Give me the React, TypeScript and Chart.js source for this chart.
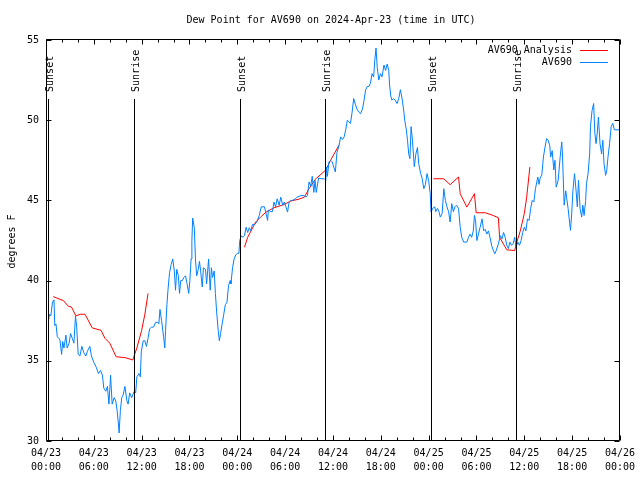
import React, { useEffect, useRef } from 'react';
import { Chart, registerables } from 'chart.js';

Chart.register(...registerables);

const FONT = '"DejaVu Sans Mono", "Liberation Mono", monospace';

const chartTitle = 'Dew Point for AV690 on 2024-Apr-23 (time in UTC)';
const yAxisTitle = 'degrees F';
const analysisLabel = 'AV690 Analysis';
const observedLabel = 'AV690';

const xTickDates = ['04/23', '04/23', '04/23', '04/23', '04/24', '04/24', '04/24', '04/24', '04/25', '04/25', '04/25', '04/25', '04/26'];
const xTickTimes = ['00:00', '06:00', '12:00', '18:00', '00:00', '06:00', '12:00', '18:00', '00:00', '06:00', '12:00', '18:00', '00:00'];

const sunsetHours = [0.29, 24.29, 48.29];
const sunriseHours = [11.04, 35.04, 58.91];

// Analysis (red) segments: hours since 04/23 00:00 UTC, dew point in F
const analysisHours1 = [0.9, 2.2, 2.8, 3.2, 3.75, 4.3, 4.9, 5.8, 6.9, 7.4, 8.0, 8.8, 9.9, 10.9, 11.05, 11.4, 12.0, 12.4, 12.8];
const analysisValues1 = [39.0, 38.75, 38.4, 38.35, 37.8, 37.9, 37.9, 37.05, 36.9, 36.4, 36.1, 35.25, 35.2, 35.05, 35.3, 35.8, 36.9, 37.9, 39.2];
const analysisHours2 = [24.9, 25.3, 26.3, 27.0, 27.6, 28.6, 29.9, 30.7, 31.75, 32.4, 33.0, 33.75, 35.1, 35.7, 36.75];
const analysisValues2 = [42.08, 42.7, 43.65, 44.0, 44.27, 44.54, 44.75, 44.96, 45.08, 45.2, 45.73, 46.3, 46.9, 47.5, 48.44];
const analysisHours3 = [48.6, 49.9, 50.7, 51.75, 51.96, 52.8, 53.75, 53.96, 55.1, 56.1, 56.75, 56.9, 57.8, 58.8, 59.0, 59.5, 60.0, 60.3, 60.7];
const analysisValues3 = [46.35, 46.35, 45.98, 46.46, 45.42, 44.58, 45.42, 44.23, 44.23, 44.06, 43.92, 42.7, 41.92, 41.875, 42.3, 43.1, 44.17, 45.2, 47.08];

// Observed (blue)
const observedHours = [
  0.3, 0.45, 0.6, 0.8, 0.92, 1.0, 1.1, 1.25, 1.42, 1.6, 1.75, 1.96, 2.1, 2.25, 2.5, 2.65, 2.9, 3.08, 3.3, 3.5,
  3.7, 3.85, 4.04, 4.25, 4.5, 4.75, 5.0, 5.2, 5.5, 5.7, 6.0, 6.3, 6.58, 6.83, 7.08, 7.25, 7.5, 7.7, 7.9, 8.1,
  8.3, 8.55, 8.75, 8.92, 9.1, 9.17, 9.33, 9.5, 9.7, 9.9, 10.15, 10.3, 10.5, 10.75, 10.9, 11.08, 11.25, 11.4, 11.67, 11.83,
  11.96, 12.2, 12.4, 12.6, 12.8, 13.0, 13.25, 13.5, 13.75, 14.0, 14.15, 14.3, 14.5, 14.75, 14.9, 15.0, 15.17, 15.3, 15.5, 15.7,
  15.9, 16.1, 16.25, 16.4, 16.6, 16.75, 16.9, 17.1, 17.3, 17.5, 17.7, 17.9, 18.05, 18.2, 18.3, 18.4, 18.6, 18.75, 18.9, 19.1,
  19.25, 19.4, 19.6, 19.75, 20.0, 20.15, 20.4, 20.6, 20.75, 20.9, 21.1, 21.25, 21.4, 21.6, 21.75, 21.9, 22.1, 22.3, 22.5, 22.7,
  22.9, 23.1, 23.2, 23.4, 23.6, 23.8, 24.0, 24.2, 24.3, 24.5, 24.7, 24.9, 25.1, 25.3, 25.5, 25.7, 25.9, 26.2, 26.5, 26.75,
  27.0, 27.4, 27.6, 27.8, 27.9, 28.2, 28.4, 28.6, 28.8, 29.0, 29.25, 29.45, 29.7, 29.9, 30.1, 30.3, 30.5, 30.7, 30.9, 31.3,
  31.5, 32.0, 32.4, 32.6, 32.8, 33.0, 33.2, 33.4, 33.6, 33.75, 33.9, 34.2, 34.5, 34.9, 35.1, 35.2, 35.3, 35.5, 35.7, 35.9,
  36.1, 36.3, 36.5, 36.75, 36.96, 37.2, 37.4, 37.6, 37.8, 38.0, 38.2, 38.4, 38.6, 38.8, 39.0, 39.25, 39.46, 39.7, 39.9, 40.1,
  40.3, 40.5, 40.7, 40.9, 41.1, 41.25, 41.4, 41.55, 41.75, 41.95, 42.15, 42.4, 42.6, 42.8, 43.0, 43.1, 43.25, 43.4, 43.6, 43.8,
  44.04, 44.25, 44.46, 44.7, 44.9, 45.0, 45.2, 45.35, 45.5, 45.65, 45.8, 45.97, 46.2, 46.4, 46.6, 46.75, 47.0, 47.15, 47.4, 47.6,
  47.8, 48.0, 48.2, 48.3, 48.5, 48.75, 48.9, 49.1, 49.3, 49.46, 49.7, 49.9, 50.1, 50.3, 50.5, 50.7, 50.9, 51.1, 51.3, 51.5,
  51.75, 51.96, 52.15, 52.4, 52.8, 53.0, 53.2, 53.4, 53.6, 53.75, 53.9, 54.05, 54.25, 54.46, 54.7, 54.9, 55.1, 55.3, 55.5, 55.7,
  55.9, 56.1, 56.3, 56.5, 56.75, 57.0, 57.2, 57.4, 57.6, 57.8, 58.0, 58.2, 58.4, 58.6, 58.8, 58.96, 59.2, 59.4, 59.6, 59.8,
  60.0, 60.2, 60.4, 60.6, 60.8, 61.0, 61.2, 61.4, 61.7, 61.85, 62.0, 62.2, 62.4, 62.6, 62.8, 63.0, 63.2, 63.3, 63.5, 63.7,
  63.85, 64.0, 64.25, 64.5, 64.7, 64.8, 65.0, 65.2, 65.3, 65.5, 65.7, 65.8, 65.95, 66.1, 66.3, 66.5, 66.65, 66.8, 67.0, 67.2,
  67.35, 67.5, 67.7, 67.8, 68.0, 68.2, 68.3, 68.5, 68.7, 68.85, 69.0, 69.15, 69.3, 69.5, 69.7, 69.85, 70.0, 70.2, 70.35, 70.5,
  70.7, 70.9, 71.1, 71.3, 71.75, 72.0,
];
const observedValues = [
  37.5, 37.9, 37.8, 38.6, 38.75, 38.8, 37.2, 37.3, 36.5, 36.4, 36.3, 35.4, 36.2, 35.8, 36.6, 35.8, 36.1, 36.7, 36.4, 36.1,
  37.8, 37.1, 35.4, 35.3, 35.9, 35.5, 35.3, 35.6, 35.9, 35.3, 34.9, 34.6, 34.2, 34.4, 34.1, 33.3, 33.1, 33.4, 32.3, 34.1,
  32.3, 32.7, 32.5, 31.9, 31.0, 30.5, 31.9, 32.7, 32.9, 33.4, 32.5, 32.3, 33.0, 32.7, 32.9, 33.1, 33.0, 34.0, 34.2, 34.0,
  35.6, 36.25, 36.25, 35.9, 36.4, 37.0, 37.1, 37.1, 37.4, 37.4, 37.3, 38.2, 37.5, 36.5, 35.8, 36.9, 38.5, 39.4, 40.5, 41.0,
  41.35, 40.6, 39.4, 40.7, 40.3, 39.2, 40.0, 40.0, 40.2, 40.3, 39.8, 39.2, 40.0, 41.35, 42.5, 43.9, 43.3, 41.35, 40.3, 40.7,
  41.2, 40.6, 39.6, 40.8, 40.7, 39.8, 41.35, 39.4, 40.8, 40.2, 40.6, 39.2, 38.1, 36.9, 36.25, 36.7, 37.3, 37.9, 38.5, 38.65,
  39.7, 40.0, 39.8, 40.8, 41.35, 41.6, 41.7, 41.7, 42.5, 42.8, 42.7, 42.8, 43.33, 43.0, 43.3, 43.1, 43.5, 43.5, 43.7, 44.06,
  44.6, 44.6, 44.2, 43.75, 44.4, 44.3, 44.3, 44.9, 44.6, 45.1, 44.7, 45.2, 44.7, 44.9, 44.6, 44.27, 44.9, 45.0, 45.0, 45.1,
  45.2, 45.3, 45.3, 45.2, 45.3, 46.15, 45.9, 46.5, 45.5, 46.25, 45.5, 46.4, 46.35, 46.35, 46.25, 47.08, 46.5, 47.4, 47.5, 47.4,
  47.08, 46.77, 48.0, 48.4, 48.96, 48.8, 48.96, 49.4, 50.0, 49.9, 49.8, 50.5, 51.35, 51.0, 50.7, 50.5, 50.4, 50.7, 51.25, 51.9,
  52.1, 52.1, 52.3, 52.9, 52.7, 53.75, 54.5, 53.3, 52.5, 52.9, 52.7, 53.44, 53.1, 53.5, 53.1, 52.2, 51.5, 51.25, 51.35, 51.25,
  51.04, 51.35, 51.9, 51.25, 50.5, 50.0, 49.4, 48.75, 47.9, 47.6, 49.6, 48.75, 47.1, 47.9, 48.3, 47.3, 46.67, 46.45, 45.73, 46.0,
  46.67, 46.25, 45.42, 44.27, 44.5, 44.6, 44.3, 44.5, 44.3, 43.96, 44.2, 45.73, 45.0, 44.6, 44.3, 43.65, 44.8, 44.3, 44.6, 44.7,
  44.5, 43.33, 42.7, 42.4, 42.4, 42.7, 42.9, 42.7, 43.1, 44.06, 43.65, 42.5, 42.9, 43.33, 43.85, 43.1, 43.2, 42.9, 43.1, 42.7,
  42.2, 41.9, 41.67, 41.9, 42.3, 42.8, 42.6, 43.0, 42.7, 42.2, 42.0, 42.4, 42.2, 42.3, 42.7, 42.08, 42.4, 42.2, 42.5, 43.0,
  43.33, 43.1, 43.85, 43.75, 44.5, 45.0, 44.9, 45.73, 46.46, 46.0, 46.4, 46.6, 47.7, 48.33, 48.85, 48.75, 48.4, 47.7, 48.1, 46.9,
  47.5, 45.83, 46.25, 47.7, 48.65, 47.7, 44.7, 45.6, 45.2, 44.48, 43.54, 43.13, 44.2, 45.6, 46.67, 45.6, 44.6, 46.25, 44.5, 43.96,
  44.7, 44.06, 45.0, 46.04, 46.67, 47.9, 49.6, 50.6, 51.04, 49.2, 48.54, 49.2, 50.2, 48.54, 47.9, 48.75, 47.3, 46.56, 46.9, 47.7,
  48.54, 49.6, 49.8, 49.4, 49.4, 49.4,
];

const yMin = 30;
const yMax = 55;
const yStep = 5;
const xMinHours = 0;
const xMaxHours = 72;
const xMajorStep = 6;
const xMinorStep = 2;

const RED = '#ff0000';
const BLUE = '#0080ff';

function toPoints(hours: number[], values: number[]) {
  return hours.map((h, i) => ({ x: h, y: values[i] }));
}

const overlayPlugin = {
  id: 'gnuOverlay',
  afterDatasetsDraw(chart: any) {
    const { ctx, chartArea: a, scales } = chart;
    const xs = scales.x;
    const ys = scales.y;
    const L = Math.floor(a.left) + 0.5;
    const T = Math.floor(a.top) - 0.5;
    const R = Math.ceil(a.right) - 0.5;
    const B = Math.ceil(a.bottom) - 0.5;
    ctx.save();
    ctx.font = `10px ${FONT}`;
    ctx.fillStyle = '#000';
    ctx.strokeStyle = '#000';
    ctx.lineWidth = 1;

    // sunrise / sunset markers
    const h = a.bottom - a.top;
    const lineTop = a.top + h * 0.147;
    const drawSun = (hour: number, label: string) => {
      const px = Math.round(xs.getPixelForValue(hour)) + 0.5;
      ctx.beginPath();
      ctx.moveTo(px, lineTop);
      ctx.lineTo(px, B);
      ctx.stroke();
      ctx.save();
      ctx.translate(px + 4.5, lineTop - 7);
      ctx.rotate(-Math.PI / 2);
      ctx.textAlign = 'left';
      ctx.textBaseline = 'alphabetic';
      ctx.fillText(label, 0, 0);
      ctx.restore();
    };
    sunsetHours.forEach((s) => drawSun(s, 'Sunset'));
    sunriseHours.forEach((s) => drawSun(s, 'Sunrise'));

    // frame
    ctx.beginPath();
    ctx.rect(L, T, R - L, B - T);
    ctx.stroke();

    // x ticks (inward, mirrored on top)
    for (let v = xMinHours; v <= xMaxHours + 1e-9; v += xMinorStep) {
      const len = v % xMajorStep === 0 ? 5 : 3;
      const px = Math.round(xs.getPixelForValue(v)) + 0.5;
      ctx.beginPath();
      ctx.moveTo(px, B);
      ctx.lineTo(px, B - len);
      ctx.moveTo(px, T);
      ctx.lineTo(px, T + len);
      ctx.stroke();
    }
    // y ticks
    for (let v = yMin; v <= yMax + 1e-9; v += yStep) {
      const py = Math.round(ys.getPixelForValue(v)) + 0.5;
      ctx.beginPath();
      ctx.moveTo(L, py);
      ctx.lineTo(L + 5, py);
      ctx.moveTo(R, py);
      ctx.lineTo(R - 5, py);
      ctx.stroke();
    }

    // title
    ctx.textAlign = 'center';
    ctx.textBaseline = 'middle';
    ctx.fillText(chartTitle, 331, 20);

    // y axis title
    ctx.save();
    ctx.translate(15, (a.top + a.bottom) / 2 + 1);
    ctx.rotate(-Math.PI / 2);
    ctx.textAlign = 'center';
    ctx.textBaseline = 'alphabetic';
    ctx.fillText(yAxisTitle, 0, 0);
    ctx.restore();

    // legend
    chart.data.datasets.forEach((ds: any, i: number) => {
      const ly = a.top + 10 + i * 12;
      ctx.textAlign = 'right';
      ctx.textBaseline = 'middle';
      ctx.fillStyle = '#000';
      ctx.fillText(ds.label, a.right - 48, ly);
      ctx.strokeStyle = ds.borderColor;
      ctx.beginPath();
      ctx.moveTo(a.right - 40, Math.round(ly) + 0.5);
      ctx.lineTo(a.right - 12, Math.round(ly) + 0.5);
      ctx.stroke();
    });
    ctx.restore();
  },
};

export default function App() {
  const canvasRef = useRef<HTMLCanvasElement | null>(null);

  useEffect(() => {
    if (!canvasRef.current) return;
    Chart.defaults.font.family = FONT;
    Chart.defaults.font.size = 10;
    Chart.defaults.color = '#000';

    const analysisData = [
      ...toPoints(analysisHours1, analysisValues1),
      { x: (analysisHours1[analysisHours1.length - 1] + analysisHours2[0]) / 2, y: null },
      ...toPoints(analysisHours2, analysisValues2),
      { x: (analysisHours2[analysisHours2.length - 1] + analysisHours3[0]) / 2, y: null },
      ...toPoints(analysisHours3, analysisValues3),
    ];

    const chart = new Chart(canvasRef.current, {
      type: 'line',
      data: {
        datasets: [
          {
            label: analysisLabel,
            data: analysisData as any,
            borderColor: RED,
            backgroundColor: RED,
            borderWidth: 1,
            pointRadius: 0,
            tension: 0,
            spanGaps: false,
            order: 1,
          },
          {
            label: observedLabel,
            data: toPoints(observedHours, observedValues),
            borderColor: BLUE,
            backgroundColor: BLUE,
            borderWidth: 1,
            pointRadius: 0,
            tension: 0,
            order: 0,
          },
        ],
      },
      options: {
        animation: false,
        responsive: false,
        devicePixelRatio: 1,
        events: [],
        layout: { padding: { left: 0, top: 40, right: 18, bottom: 0 } },
        plugins: {
          legend: { display: false },
          title: { display: false },
          tooltip: { enabled: false },
        },
        scales: {
          x: {
            type: 'linear',
            min: xMinHours,
            max: xMaxHours,
            grid: { display: false, drawTicks: false },
            border: { display: false },
            afterFit: (s: any) => { s.height = 39; },
            ticks: {
              stepSize: xMajorStep,
              autoSkip: false,
              maxRotation: 0,
              minRotation: 0,
              padding: 5,
              font: { family: FONT, size: 10, lineHeight: 1.4 },
              color: '#000',
              callback: (value: any) => {
                const idx = Math.round((Number(value) - xMinHours) / xMajorStep);
                return [xTickDates[idx] ?? '', xTickTimes[idx] ?? ''];
              },
            },
          },
          y: {
            type: 'linear',
            min: yMin,
            max: yMax,
            grid: { display: false, drawTicks: false },
            border: { display: false },
            afterFit: (s: any) => { s.width = 46; },
            ticks: {
              stepSize: yStep,
              padding: 7,
              font: { family: FONT, size: 10 },
              color: '#000',
            },
          },
        },
      },
      plugins: [overlayPlugin],
    });
    return () => chart.destroy();
  }, []);

  return (
    <div style={{ position: 'absolute', left: 0, top: 0, width: 640, height: 480, background: '#fff' }}>
      <canvas ref={canvasRef} width={640} height={480} style={{ display: 'block' }} />
    </div>
  );
}
